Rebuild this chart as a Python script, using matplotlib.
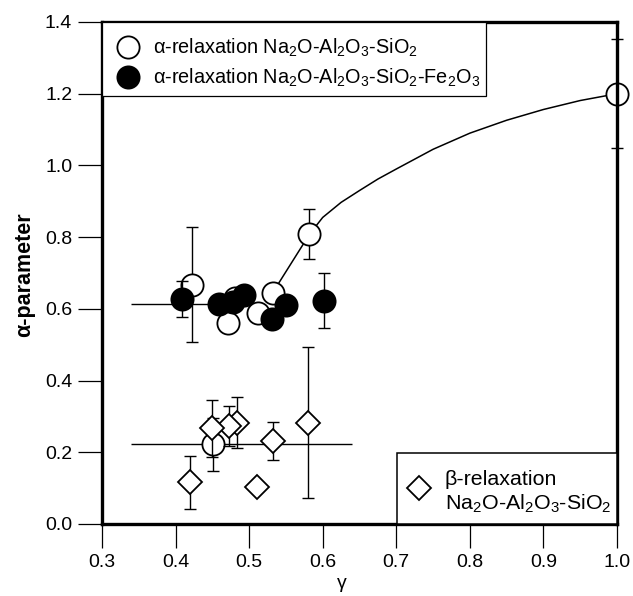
import numpy as np
import matplotlib
matplotlib.use("Agg")
import matplotlib.pyplot as plt
from matplotlib.patches import Rectangle

plt.rcParams['font.family'] = ['Liberation Sans', 'DejaVu Sans']
plt.rcParams['mathtext.fontset'] = 'custom'
plt.rcParams['mathtext.rm'] = 'Liberation Sans'
plt.rcParams['mathtext.it'] = 'Liberation Sans'
plt.rcParams['mathtext.default'] = 'regular'

# alpha-relaxation, Na2O-Al2O3-SiO2 glasses (open circles)
gamma_nas = [0.422, 0.471, 0.481, 0.512, 0.532, 0.582, 1.000, 0.451]
alpha_nas = [0.667, 0.561, 0.630, 0.588, 0.645, 0.808, 1.200, 0.222]
alpha_nas_err = [0.16, 0.0, 0.0, 0.0, 0.0, 0.07, 0.152, 0.075]
gamma_nas_err_lo = [0.0, 0.0, 0.0, 0.0, 0.0, 0.0, 0.0, 0.111]
gamma_nas_err_hi = [0.0, 0.0, 0.0, 0.0, 0.0, 0.0, 0.0, 0.189]

# alpha-relaxation, Na2O-Al2O3-SiO2-Fe2O3 glasses (filled circles)
gamma_nasf = [0.478, 0.409, 0.459, 0.493, 0.531, 0.550, 0.602]
alpha_nasf = [0.620, 0.627, 0.613, 0.639, 0.571, 0.611, 0.623]
alpha_nasf_err = [0.0, 0.05, 0.0, 0.0, 0.0, 0.0, 0.077]
gamma_nasf_err_lo = [0.0, 0.0, 0.119, 0.0, 0.0, 0.0, 0.0]
gamma_nasf_err_hi = [0.0, 0.0, 0.03, 0.0, 0.0, 0.0, 0.0]

# beta-relaxation, Na2O-Al2O3-SiO2 glasses (open diamonds)
gamma_beta = [0.420, 0.484, 0.472, 0.450, 0.510, 0.532, 0.580]
alpha_beta = [0.116, 0.283, 0.273, 0.267, 0.104, 0.231, 0.283]
alpha_beta_err = [0.075, 0.07, 0.055, 0.08, 0.0, 0.053, 0.21]

# guide curve through the alpha-relaxation data
fit_gamma = [0.532, 0.582, 0.600, 0.625, 0.650, 0.675, 0.700, 0.750, 0.800,
             0.850, 0.900, 0.950, 1.000]
fit_alpha = [0.645, 0.808, 0.855, 0.897, 0.930, 0.962, 0.990, 1.045, 1.090,
             1.126, 1.156, 1.181, 1.200]

x_ticks = [0.3, 0.4, 0.5, 0.6, 0.7, 0.8, 0.9, 1.0]
y_ticks = [0.0, 0.2, 0.4, 0.6, 0.8, 1.0, 1.2, 1.4]

W, H = 633, 596
fig = plt.figure(figsize=(W / 100, H / 100), dpi=100)
ax = fig.add_axes([102 / W, 1 - 524 / H, 515 / W, 502 / H])

FS_TICK = 14
FS_LEG1 = 14.3
FS_LEG2 = 15.4
eb_kw = dict(fmt='none', ecolor='black', elinewidth=1.0, capsize=4.3, capthick=1.0)


def draw_errors(x, y, yerr, xlo=None, xhi=None, z=2):
    x = np.asarray(x); y = np.asarray(y); yerr = np.asarray(yerr)
    m = yerr > 0
    if m.any():
        ax.errorbar(x[m], y[m], yerr=yerr[m], zorder=z, clip_on=False, **eb_kw)
    if xlo is not None:
        xlo = np.asarray(xlo); xhi = np.asarray(xhi)
        m = (xlo > 0) | (xhi > 0)
        if m.any():
            ax.errorbar(x[m], y[m], xerr=[xlo[m], xhi[m]], zorder=z,
                        fmt='none', ecolor='black', elinewidth=1.0, capsize=0)


# open circles with their error bars and the guide curve
draw_errors(gamma_nas, alpha_nas, alpha_nas_err, gamma_nas_err_lo, gamma_nas_err_hi, z=2)
ax.plot(fit_gamma, fit_alpha, color='black', lw=1.1, zorder=2.5)
ax.plot(gamma_nas, alpha_nas, 'o', ms=16, mfc='white', mec='black', mew=1.3,
        zorder=3, clip_on=False)

# filled circles
draw_errors(gamma_nasf, alpha_nasf, alpha_nasf_err, gamma_nasf_err_lo, gamma_nasf_err_hi, z=4)
ax.plot(gamma_nasf, alpha_nasf, 'o', ms=16, mfc='black', mec='black', mew=1.3,
        zorder=5)

# diamonds
draw_errors(gamma_beta, alpha_beta, alpha_beta_err, z=6)
for gx, gy in zip(gamma_beta, alpha_beta):
    ax.plot([gx], [gy], 'D', ms=12.5, mfc='white', mec='black', mew=1.3, zorder=7)

ax.set_xlim(0.3, 1.0)
ax.set_ylim(0.0, 1.4)
ax.set_xticks(x_ticks)
ax.set_yticks(y_ticks)
ax.set_xticklabels([f"{t:.1f}" for t in x_ticks])
ax.set_yticklabels([f"{t:.1f}" for t in y_ticks])
ax.tick_params(direction='out', length=17.5, width=0.9, labelsize=FS_TICK, pad=4,
               top=False, right=False)
for sp in ax.spines.values():
    sp.set_linewidth(2.4)
    sp.set_zorder(6.5)

# legend for the alpha-relaxation series
tr = ax.transAxes
ax.add_patch(Rectangle((0, 0.853), 0.7456, 0.147, transform=tr, fc='white',
                       ec='black', lw=0.9, zorder=10))
ax.plot([0.0505], [0.951], 'o', ms=16, mfc='white', mec='black', mew=1.3,
        transform=tr, zorder=11)
ax.plot([0.0505], [0.891], 'o', ms=16, mfc='black', mec='black', mew=1.3,
        transform=tr, zorder=11)
ax.text(0.099, 0.9376, r"α-relaxation Na$_2$O-Al$_2$O$_3$-SiO$_2$", transform=tr,
        fontsize=FS_LEG1, va='baseline', ha='left', zorder=12)
ax.text(0.099, 0.8779, r"α-relaxation Na$_2$O-Al$_2$O$_3$-SiO$_2$-Fe$_2$O$_3$",
        transform=tr, fontsize=FS_LEG1, va='baseline', ha='left', zorder=12)

# legend for the beta-relaxation series
ax.add_patch(Rectangle((0.5734, 0), 1 - 0.5734, 0.1408, transform=tr, fc='white',
                       ec='black', lw=1.1, zorder=10))
ax.plot([0.616], [0.0711], 'D', ms=12.5, mfc='white', mec='black', mew=1.3,
        transform=tr, zorder=11)
ax.text(0.666, 0.0777, "β-relaxation", transform=tr, fontsize=FS_LEG2,
        va='baseline', ha='left', zorder=12)
ax.text(0.666, 0.0279, r"Na$_2$O-Al$_2$O$_3$-SiO$_2$", transform=tr, fontsize=FS_LEG2,
        va='baseline', ha='left', zorder=12)

fig.text(342 / W, 1 - 583 / H, "γ", fontsize=FS_TICK, ha='center', va='center')
fig.text(25 / W, 1 - 275 / H, "α-parameter", fontsize=15.5, fontweight='bold',
         ha='center', va='center', rotation=90)

fig.savefig("out.png", dpi=100)
